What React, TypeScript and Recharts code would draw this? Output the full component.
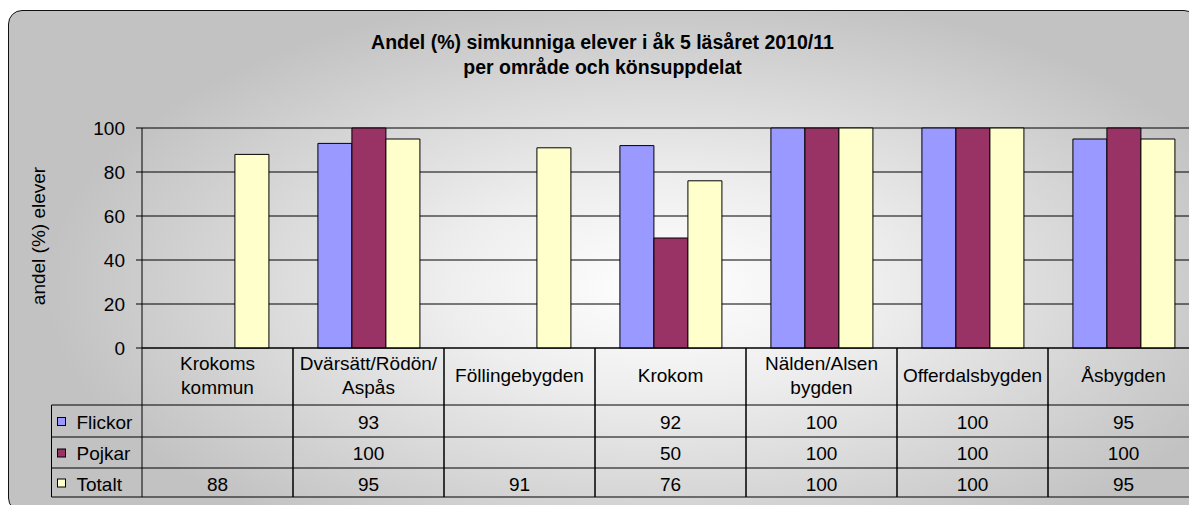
import React from "react";
import { BarChart, Bar, XAxis, YAxis, CartesianGrid } from "recharts";

const categories = [
  "Krokoms\nkommun",
  "Dvärsätt/Rödön/\nAspås",
  "Föllingebygden",
  "Krokom",
  "Nälden/Alsen\nbygden",
  "Offerdalsbygden",
  "Åsbygden",
];
const flickor: (number | null)[] = [null, 93, null, 92, 100, 100, 95];
const pojkar: (number | null)[] = [null, 100, null, 50, 100, 100, 100];
const totalt: (number | null)[] = [88, 95, 91, 76, 100, 100, 95];
const yTicks = [0, 20, 40, 60, 80, 100];

const seriesNames = ["Flickor", "Pojkar", "Totalt"];
const seriesColors = ["#9999FF", "#993366", "#FFFFCC"];
const seriesValues = [flickor, pojkar, totalt];

const title1 = "Andel (%) simkunniga elever i åk 5 läsåret 2010/11";
const title2 = "per område och könsuppdelat";
const yLabel = "andel (%) elever";

const data = categories.map((c, i) => ({
  name: c,
  flickor: flickor[i],
  pojkar: pojkar[i],
  totalt: totalt[i],
}));

const FONT = "'Liberation Sans', Arial, sans-serif";
const W = 1191;
const H = 505;
const Y_AXIS_W = 134;
const MARGIN = { top: 120, right: 0, bottom: 0, left: 0 };
const BAND = (W - MARGIN.left - MARGIN.right - Y_AXIS_W) / categories.length;
const X_AXIS_H = 165;

// table row geometry relative to axis line
const ROW_LINES = [57, 89, 120, 149];
const VALUE_BASELINES = [81, 112, 143];
const LEGEND_LEFT = 43.5;

const CategoryTick = (props: any) => {
  const { x, y, payload } = props;
  const i = payload.index;
  const left = x - BAND / 2;
  const right = x + BAND / 2;
  const lines = String(categories[i]).split("\n");
  const labelBaselines = lines.length === 2 ? [22, 46] : [34];
  return (
    <g>
      <line x1={left} x2={left} y1={y} y2={y + ROW_LINES[3]} stroke="#000" strokeWidth={1} />
      <line x1={right} x2={right} y1={y} y2={y + ROW_LINES[3]} stroke="#000" strokeWidth={1} />
      {ROW_LINES.map((r, k) => (
        <line key={k} x1={left} x2={right} y1={y + r} y2={y + r} stroke="#000" strokeWidth={1} />
      ))}
      {lines.map((l, k) => (
        <text key={k} x={x} y={y + labelBaselines[k]} textAnchor="middle" fontSize={19} fontFamily={FONT} fill="#000">
          {l}
        </text>
      ))}
      {seriesValues.map((vals, k) => (
        <text key={k} x={x} y={y + VALUE_BASELINES[k]} textAnchor="middle" fontSize={19} fontFamily={FONT} fill="#000">
          {vals[i] == null ? "" : vals[i]}
        </text>
      ))}
      {i === 0 && (
        <g>
          <line x1={LEGEND_LEFT} x2={LEGEND_LEFT} y1={y + ROW_LINES[0]} y2={y + ROW_LINES[3]} stroke="#000" strokeWidth={1} />
          {ROW_LINES.map((r, k) => (
            <line key={k} x1={LEGEND_LEFT} x2={left} y1={y + r} y2={y + r} stroke="#000" strokeWidth={1} />
          ))}
          {seriesNames.map((n, k) => {
            const cy = (ROW_LINES[k] + ROW_LINES[k + 1]) / 2 + y;
            return (
              <g key={k}>
                <rect x={LEGEND_LEFT + 6} y={cy - 3.5} width={8} height={8} fill={seriesColors[k]} stroke="#000" strokeWidth={1} />
                <text x={LEGEND_LEFT + 25} y={y + VALUE_BASELINES[k]} fontSize={19} fontFamily={FONT} fill="#000">
                  {n}
                </text>
              </g>
            );
          })}
        </g>
      )}
    </g>
  );
};

const YLabel = (props: any) => {
  const vb = props.viewBox || { x: 0, y: MARGIN.top, width: Y_AXIS_W, height: 220 };
  const cx = vb.x + 30;
  const cy = vb.y + vb.height / 2 - 2;
  return (
    <text
      x={cx}
      y={cy}
      transform={`rotate(-90 ${cx} ${cy})`}
      textAnchor="middle"
      dominantBaseline="central"
      fontSize={19}
      fontFamily={FONT}
      fill="#000"
    >
      {yLabel}
    </text>
  );
};

export default function App() {
  return (
    <div
      style={{
        position: "relative",
        width: 1189,
        height: H,
        marginBottom: -8,
        overflow: "hidden",
        fontFamily: FONT,
      }}
    >
      <style>{"html,body{overflow:hidden;}"}</style>
      <div
        style={{
          position: "absolute",
          left: 0,
          top: 2,
          width: 1190,
          height: 502,
          boxSizing: "border-box",
          border: "1.5px solid #111",
          borderRadius: 14,
          background:
            "radial-gradient(ellipse 52% 60% at 55% 55%, #ffffff 0%, #eeeeee 35%, #c2c2c2 100%)",
        }}
      />
      <div
        style={{
          position: "absolute",
          left: 0,
          top: 22,
          width: 1189,
          textAlign: "center",
          fontWeight: "bold",
          fontSize: 19.5,
          lineHeight: "25px",
          color: "#000",
        }}
      >
        <div>{title1}</div>
        <div>{title2}</div>
      </div>
      <div style={{ position: "absolute", left: 0, top: 0 }}>
        <BarChart
          width={W}
          height={H}
          data={data}
          margin={MARGIN}
          barCategoryGap="16.5%"
          barGap={0}
        >
          <CartesianGrid horizontal vertical={false} stroke="#000" strokeWidth={1} />
          <XAxis
            dataKey="name"
            height={X_AXIS_H}
            interval={0}
            tickLine={false}
            tickSize={0}
            tickMargin={0}
            axisLine={{ stroke: "#000", strokeWidth: 1 }}
            tick={<CategoryTick />}
          />
          <YAxis
            width={Y_AXIS_W}
            domain={[0, 100]}
            ticks={yTicks}
            interval={0}
            tickSize={6}
            tickMargin={11}
            axisLine={{ stroke: "#000", strokeWidth: 1 }}
            tickLine={{ stroke: "#000", strokeWidth: 1 }}
            tick={{ fontSize: 19, fontFamily: FONT, fill: "#000" }}
            label={<YLabel />}
          />
          <Bar dataKey="flickor" fill={seriesColors[0]} stroke="#000" strokeWidth={1} isAnimationActive={false} />
          <Bar dataKey="pojkar" fill={seriesColors[1]} stroke="#000" strokeWidth={1} isAnimationActive={false} />
          <Bar dataKey="totalt" fill={seriesColors[2]} stroke="#000" strokeWidth={1} isAnimationActive={false} />
        </BarChart>
      </div>
    </div>
  );
}
